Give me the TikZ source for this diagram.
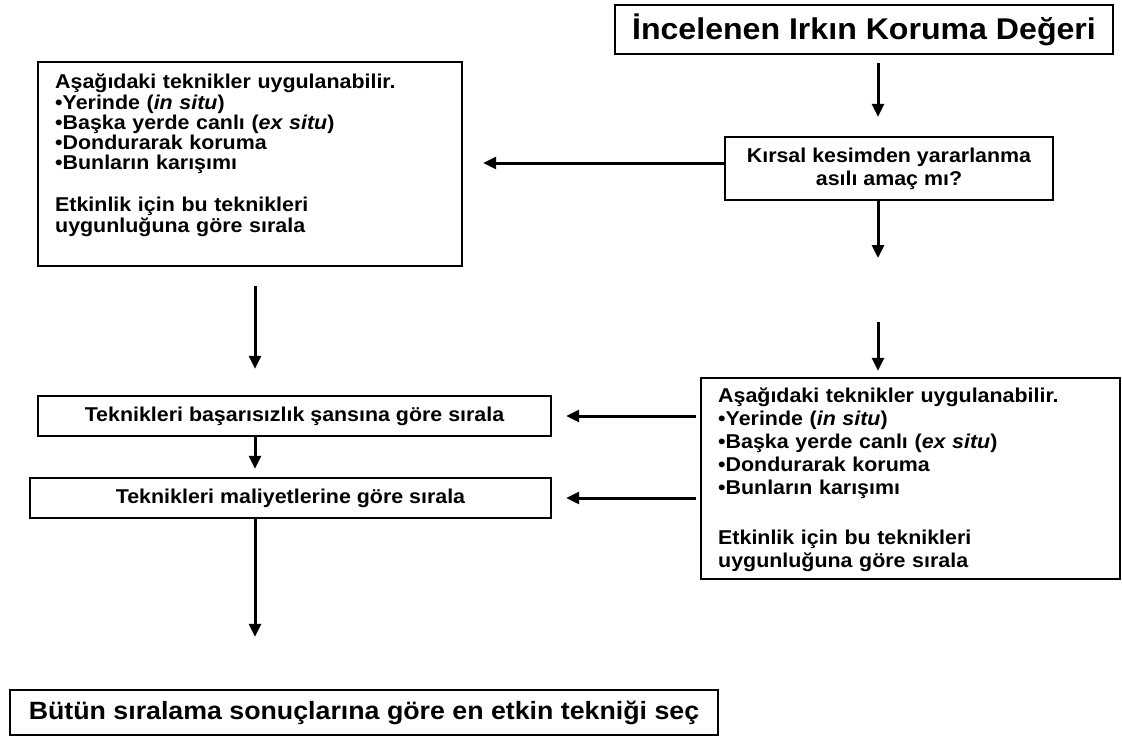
\documentclass[tikz,border=0pt]{standalone}
\usepackage{fontspec}
\setmainfont{Liberation Sans}[FakeStretch=1.07]
\usetikzlibrary{arrows.meta}
\begin{document}
\begin{tikzpicture}[x=1pt,y=-1pt,
  box/.style={draw, line width=2.4pt, inner sep=0pt, font=\bfseries\fontsize{20}{24}\selectfont},
  arr/.style={line width=3pt, -{Triangle[length=13pt,width=12pt]}},
  body/.style={inner sep=0pt, anchor=north west, align=left, text width=400pt}]
\useasboundingbox[fill=white] (0,0) rectangle (1122,740);

\coordinate (rx) at (878,0);
\coordinate (lx) at (255,0);
\coordinate (hy) at (0,163);
\coordinate (gapTop) at (878,258);
\coordinate (gapBot) at (878,322);

\node[box, minimum width=498, minimum height=49, font=\bfseries\fontsize{30}{36}\selectfont] (title) at (864,29.5) {İncelenen Irkın Koruma Değeri};

\node[box, minimum width=424, minimum height=204] (lbox) at (250,164) {};
\node[body, font=\bfseries\fontsize{20}{20.2}\selectfont] (ltext) at (55,74) {Aşağıdaki teknikler uygulanabilir.\\
•Yerinde (\textit{in situ})\\
•Başka yerde canlı (\textit{ex situ})\\
•Dondurarak koruma\\
•Bunların karışımı\\[22pt]
Etkinlik için bu teknikleri\\
uygunluğuna göre sırala};

\node[box, minimum width=328, minimum height=63, align=center, font=\bfseries\fontsize{20}{23}\selectfont] (kirsal) at (889,168.5) {Kırsal kesimden yararlanma\\asılı amaç mı?};

\node[box, minimum width=419, minimum height=201] (rbox) at (910.5,478.5) {};
\node[body, font=\bfseries\fontsize{20}{23}\selectfont] (rtext) at (718,388) {Aşağıdaki teknikler uygulanabilir.\\
•Yerinde (\textit{in situ})\\
•Başka yerde canlı (\textit{ex situ})\\
•Dondurarak koruma\\
•Bunların karışımı\\[27pt]
Etkinlik için bu teknikleri\\
uygunluğuna göre sırala};

\node[box, minimum width=513, minimum height=40] (fail) at (294.5,416) {Teknikleri başarısızlık şansına göre sırala};
\node[box, minimum width=521, minimum height=40] (cost) at (290.5,498) {Teknikleri maliyetlerine göre sırala};
\node[box, minimum width=708, minimum height=45, font=\bfseries\fontsize{25}{30}\selectfont] (final) at (364,712.5) {Bütün sıralama sonuçlarına göre en etkin tekniği seç};

\draw[arr, shorten <=8pt, shorten >=19pt] (title.south -| rx) -- (kirsal.north -| rx);
\draw[arr, shorten >=20pt] (kirsal.west |- hy) -- (lbox.east |- hy);
\draw[arr] (kirsal.south -| rx) -- (gapTop);
\draw[arr, shorten >=6pt] (gapBot) -- (rbox.north -| rx);
\draw[arr, shorten <=19pt, shorten >=26pt] (lbox.south -| lx) -- (fail.north -| lx);
\draw[arr, shorten <=4pt, shorten >=14pt] (rbox.west |- fail.east) -- (fail.east);
\draw[arr, shorten >=8pt] (fail.south -| lx) -- (cost.north -| lx);
\draw[arr, shorten <=4pt, shorten >=14pt] (rbox.west |- cost.east) -- (cost.east);
\draw[arr, shorten >=52pt] (cost.south -| lx) -- (final.north -| lx);
\end{tikzpicture}
\end{document}
